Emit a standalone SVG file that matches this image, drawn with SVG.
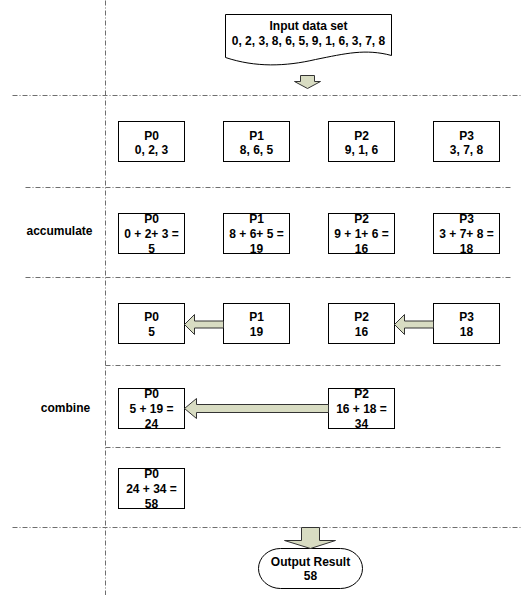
<svg xmlns="http://www.w3.org/2000/svg" width="521" height="595" viewBox="0 0 521 595">
  <style>
    .guide { stroke: #6e6e6e; stroke-width: 1; stroke-dasharray: 5 2 1 2; fill: none; }
    .box { fill: #ffffff; stroke: #000000; stroke-width: 1; }
    .arrow { fill: #d8dcc2; stroke: #333333; stroke-width: 1; stroke-linejoin: miter; }
    text { font-family: "Liberation Sans", Arial, sans-serif; font-size: 12px; font-weight: bold; fill: #000000; text-anchor: middle; }
  </style>
  <rect width="521" height="595" fill="#ffffff"/>

  <!-- half-pixel offset keeps 1px strokes on the pixel grid -->
  <g transform="translate(0.5 0.5)">
    <!-- phase separators -->
    <g id="guides">
      <line class="guide" x1="105" y1="0" x2="105" y2="595"/>
      <line class="guide" x1="12" y1="95" x2="521" y2="95"/>
      <line class="guide" x1="25" y1="187" x2="512" y2="187"/>
      <line class="guide" x1="25" y1="277" x2="512" y2="277"/>
      <line class="guide" x1="105" y1="365" x2="502" y2="365"/>
      <line class="guide" x1="105" y1="447" x2="500" y2="447"/>
      <line class="guide" x1="12" y1="527" x2="521" y2="527"/>
    </g>

    <!-- phase labels -->
    <text x="59" y="234">accumulate</text>
    <text x="65" y="411">combine</text>

    <!-- input document -->
    <g id="input">
      <path class="box" d="M225,14 H391 V55 C365,48 345,53 315,59 C285,66 255,67 225,57 Z"/>
      <text x="308" y="29">Input data set</text>
      <text x="308" y="44">0, 2, 3, 8, 6, 5, 9, 1, 6, 3, 7, 8</text>
    </g>

    <!-- distribute -->
    <g id="p0-data"><rect class="box" x="118" y="121" width="66" height="40"/><text x="151" y="139">P0</text><text x="151" y="153">0, 2, 3</text></g>
    <g id="p1-data"><rect class="box" x="223" y="121" width="66" height="40"/><text x="256" y="139">P1</text><text x="256" y="153">8, 6, 5</text></g>
    <g id="p2-data"><rect class="box" x="328" y="121" width="66" height="40"/><text x="361" y="139">P2</text><text x="361" y="153">9, 1, 6</text></g>
    <g id="p3-data"><rect class="box" x="433" y="121" width="66" height="40"/><text x="466" y="139">P3</text><text x="466" y="153">3, 7, 8</text></g>

    <!-- accumulate -->
    <g id="p0-acc"><rect class="box" x="118" y="213" width="66" height="40"/><text x="151" y="222">P0</text><text x="151" y="237">0 + 2+ 3 =</text><text x="151" y="252">5</text></g>
    <g id="p1-acc"><rect class="box" x="223" y="213" width="66" height="40"/><text x="256" y="222">P1</text><text x="256" y="237">8 + 6+ 5 =</text><text x="256" y="252">19</text></g>
    <g id="p2-acc"><rect class="box" x="328" y="213" width="66" height="40"/><text x="361" y="222">P2</text><text x="361" y="237">9 + 1+ 6 =</text><text x="361" y="252">16</text></g>
    <g id="p3-acc"><rect class="box" x="433" y="213" width="66" height="40"/><text x="466" y="222">P3</text><text x="466" y="237">3 + 7+ 8 =</text><text x="466" y="252">18</text></g>

    <!-- combine, step 1 -->
    <g id="p0-c1"><rect class="box" x="118" y="303" width="66" height="40"/><text x="151" y="320">P0</text><text x="151" y="335">5</text></g>
    <g id="p1-c1"><rect class="box" x="223" y="303" width="66" height="40"/><text x="256" y="320">P1</text><text x="256" y="335">19</text></g>
    <g id="p2-c1"><rect class="box" x="328" y="303" width="66" height="40"/><text x="361" y="320">P2</text><text x="361" y="335">16</text></g>
    <g id="p3-c1"><rect class="box" x="433" y="303" width="66" height="40"/><text x="466" y="320">P3</text><text x="466" y="335">18</text></g>

    <!-- combine, step 2 -->
    <g id="p0-c2"><rect class="box" x="118" y="388" width="66" height="40"/><text x="151" y="397">P0</text><text x="151" y="412">5 + 19 =</text><text x="151" y="427">24</text></g>
    <g id="p2-c2"><rect class="box" x="328" y="388" width="66" height="40"/><text x="361" y="397">P2</text><text x="361" y="412">16 + 18 =</text><text x="361" y="427">34</text></g>

    <!-- final -->
    <g id="p0-final"><rect class="box" x="118" y="468" width="66" height="40"/><text x="151" y="477">P0</text><text x="151" y="492">24 + 34 =</text><text x="151" y="507">58</text></g>

    <!-- output -->
    <g id="output">
      <rect class="box" x="258" y="548" width="104" height="40" rx="22" ry="20"/>
      <text x="310" y="565">Output Result</text>
      <text x="310" y="579">58</text>
    </g>

    <!-- block arrows -->
    <g id="connectors">
      <path class="arrow" d="M300,75 H314 V81 H320 L307,88 L294,81 H300 Z"/>
      <path class="arrow" d="M223,320.5 H194 V314 L184,324 L194,334 V327.5 H223 Z"/>
      <path class="arrow" d="M433,320.5 H404 V314 L394,324 L404,334 V327.5 H433 Z"/>
      <path class="arrow" d="M328,404 H196 V398 L184,408 L196,418 V412 H328 Z"/>
      <path class="arrow" d="M301,527 H319 V540 H335 L310,548 L284,540 H301 Z"/>
    </g>
  </g>
</svg>
